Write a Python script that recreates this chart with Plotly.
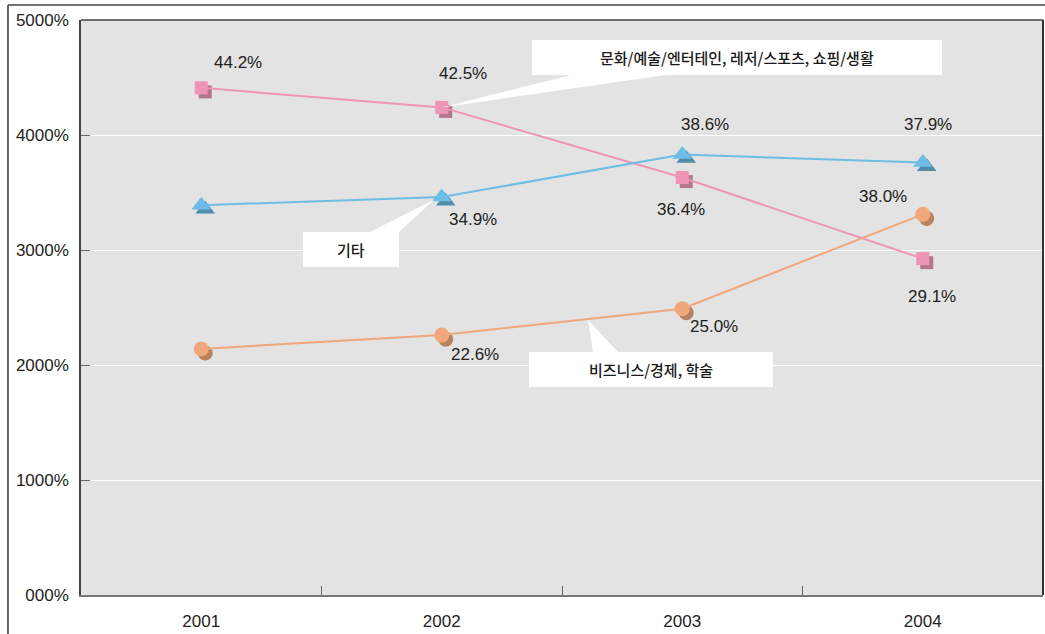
import plotly.graph_objects as go

years = ["2001", "2002", "2003", "2004"]
culture = [4410, 4240, 3630, 2925]      # 문화/예술/엔터테인, 레저/스포츠, 쇼핑/생활
other = [3390, 3460, 3830, 3760]        # 기타
business = [2140, 2260, 2490, 3310]     # 비즈니스/경제, 학술

culture_labels = ["44.2%", "42.5%", "36.4%", "29.1%"]
other_labels = [None, "34.9%", "38.6%", "37.9%"]
business_labels = [None, "22.6%", "25.0%", "38.0%"]

y_ticks = [0, 1000, 2000, 3000, 4000, 5000]
y_ticktext = ["000%", "1000%", "2000%", "3000%", "4000%", "5000%"]

xi = list(range(len(years)))

PINK, PINK_S = "#ee95b6", "#b5758f"
BLUE, BLUE_S = "#6dbde6", "#4f8ea9"
ORANGE, ORANGE_S = "#f0a77c", "#b8845f"

DX, DY = 0.0166, -35  # shadow offset (~4px right/down)

fig = go.Figure()

series = [
    (culture, PINK, PINK_S, "square", 13),
    (other, BLUE, BLUE_S, "triangle-up", 17),
    (business, ORANGE, ORANGE_S, "circle", 15),
]
for vals, col, scol, sym, size in series:
    fig.add_trace(go.Scatter(
        x=[v + DX for v in xi], y=[v + DY for v in vals], mode="markers",
        marker=dict(symbol=sym, size=size, color=scol, line=dict(width=0)),
        hoverinfo="skip", showlegend=False))
for vals, col, scol, sym, size in series:
    fig.add_trace(go.Scatter(
        x=xi, y=vals, mode="lines+markers",
        line=dict(color=col, width=2),
        marker=dict(symbol=sym, size=size, color=col, line=dict(width=0)),
        showlegend=False))

# data labels
label_font = dict(family="Liberation Sans, Arial, sans-serif", size=17, color="#222222")
offsets = {
    "culture": [(37, 25), (21, 34), (-1, -32), (9, -38)],
    "other": [None, (31, -22), (23, 30), (5, 38)],
    "business": [None, (33, -19), (32, -18), (-40, 18)],
}
for key, vals, labs in [("culture", culture, culture_labels),
                        ("other", other, other_labels),
                        ("business", business, business_labels)]:
    for i, (v, lab) in enumerate(zip(vals, labs)):
        if lab is None:
            continue
        xs, ys = offsets[key][i]
        fig.add_annotation(x=xi[i], y=v, text=lab, showarrow=False,
                           xshift=xs, yshift=ys, font=label_font)

# callout boxes (white rect + wedge pointer)
kr_font = dict(family="Noto Sans CJK KR, sans-serif", size=15, color="#1a1a1a", weight=500)
callouts = [
    ("문화/예술/엔터테인, 레저/스포츠, 쇼핑/생활", (1.375, 3.080, 4522, 4826),
     (1.537, 1.932, 4522), (xi[1], culture[1])),
    ("기타", (0.423, 0.822, 2852, 3157),
     (0.702, 0.822, 3157), (xi[1] - 0.03, other[1] - 20)),
    ("비즈니스/경제, 학술", (1.363, 2.377, 1809, 2113),
     (1.629, 1.733, 2113), (1.608, 2391)),
]
for text, (bx0, bx1, by0, by1), (px0, px1, py), (ax, ay) in callouts:
    fig.add_shape(type="rect", xref="x", yref="y", x0=bx0, x1=bx1, y0=by0, y1=by1,
                  fillcolor="white", line=dict(width=0), layer="above")
    fig.add_shape(type="path", xref="x", yref="y",
                  path=f"M {px0} {py} L {px1} {py} L {ax} {ay} Z",
                  fillcolor="white", line=dict(width=0), layer="above")
    fig.add_annotation(x=(bx0 + bx1) / 2, y=(by0 + by1) / 2, text=text,
                       showarrow=False, font=kr_font)

# outer frame lines
fig.add_shape(type="line", xref="paper", yref="paper", x0=-0.0759, x1=1.01,
              y0=1.026, y1=1.026, line=dict(color="#444444", width=1.5))
fig.add_shape(type="line", xref="paper", yref="paper", x0=-0.0759, x1=-0.0759,
              y0=1.026, y1=-0.1, line=dict(color="#333333", width=1.5))

tick_font = dict(family="Liberation Sans, Arial, sans-serif", size=17, color="#222222")
fig.update_layout(
    width=1045, height=634,
    margin=dict(l=81, r=2, t=20, b=39),
    paper_bgcolor="white", plot_bgcolor="#e3e3e3",
    showlegend=False,
    xaxis=dict(range=[-0.5, 3.5], tickvals=xi, ticktext=years, ticks="",
               showgrid=False, zeroline=False, showline=True, linecolor="#777777",
               linewidth=2, mirror=False, tickfont=tick_font, ticklabelstandoff=10,
               minor=dict(tickvals=[0.5, 1.5, 2.5], ticks="inside", ticklen=9,
                          tickcolor="#666666", tickwidth=1, showgrid=False)),
    yaxis=dict(range=[0, 5000], tickvals=y_ticks, ticktext=y_ticktext,
               ticks="inside", ticklen=9, tickcolor="#666666",
               showgrid=True, gridcolor="white", gridwidth=1.2, zeroline=False,
               showline=True, linecolor="#444444", linewidth=1.5,
               tickfont=tick_font, ticklabelstandoff=7),
)
# top and right plot borders
fig.add_shape(type="line", xref="paper", yref="paper", x0=0, x1=1, y0=1, y1=1,
              line=dict(color="#444444", width=1.5))
fig.add_shape(type="line", xref="paper", yref="paper", x0=1, x1=1, y0=0, y1=1,
              line=dict(color="#333333", width=2))

fig.write_html("out.html", config={"displayModeBar": False},
               post_script="document.body.style.margin='0';")
